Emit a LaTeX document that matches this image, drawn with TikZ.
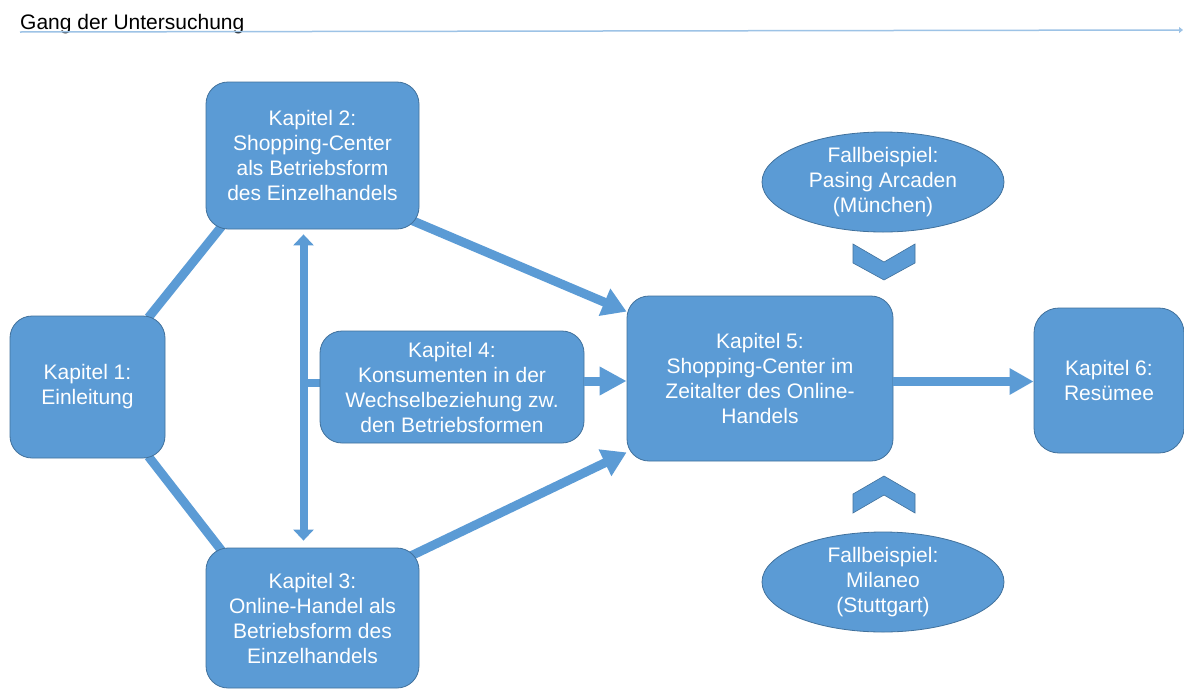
\documentclass[tikz,border=0pt]{standalone}
\usepackage{fontspec}
\setmainfont{Liberation Sans}
\usetikzlibrary{arrows.meta,shapes.geometric,calc,backgrounds}
\definecolor{boxblue}{HTML}{5B9BD5}
\definecolor{edgeblue}{HTML}{41719C}
\definecolor{titleline}{HTML}{9DC3E6}
\begin{document}
\begin{tikzpicture}[x=1pt,y=-1pt,
  txt/.style={font=\fontsize{21}{25}\selectfont},
  box/.style={txt, draw=edgeblue, line width=0.8pt, fill=boxblue, rounded corners=22pt, text=white, align=center, inner sep=0pt},
  oval/.style={txt, ellipse, draw=edgeblue, line width=0.8pt, fill=boxblue, text=white, align=center, inner sep=0pt, minimum width=242pt, minimum height=100pt},
  link/.style={draw=boxblue, line width=9pt},
  flow/.style={link, -{Triangle[length=24pt,width=28pt]}},
  dbl/.style={draw=boxblue, line width=8pt, {Triangle[length=11pt,width=20pt]}-{Triangle[length=11pt,width=20pt]}},
  chev/.style={fill=boxblue, draw=edgeblue, line width=0.6pt}
]
\useasboundingbox (0,0) rectangle (1184,691);

\node[anchor=base west, txt, inner sep=0pt] (title) at (20,29) {Gang der Untersuchung};
\coordinate (lineend) at (1183,30);
\draw[titleline, line width=1.5pt, -{Triangle[length=4pt,width=6pt]}] ($(title.base west)+(0,3)$) -- (lineend);

\node[box, minimum width=155pt, minimum height=142pt] (k1) at (87.5,387) {Kapitel 1:\\Einleitung};
\node[box, minimum width=213pt, minimum height=147pt] (k2) at (312.5,155.5) {Kapitel 2:\\Shopping-Center\\als Betriebsform\\des Einzelhandels};
\node[box, minimum width=213pt, minimum height=140pt] (k3) at (312.5,618) {Kapitel 3:\\Online-Handel als\\Betriebsform des\\Einzelhandels};
\node[box, minimum width=264pt, minimum height=112pt] (k4) at (452,387) {Kapitel 4:\\Konsumenten in der\\Wechselbeziehung zw.\\den Betriebsformen};
\node[box, minimum width=266pt, minimum height=165pt] (k5) at (760,378.5) {Kapitel 5:\\Shopping-Center im\\Zeitalter des Online-\\Handels};
\node[box, minimum width=150pt, minimum height=145pt, rounded corners=25pt] (k6) at (1109,380.5) {Kapitel 6:\\Resümee};
\node[oval] (e1) at (883,182) {Fallbeispiel:\\Pasing Arcaden\\(München)};
\node[oval] (e2) at (883,582) {Fallbeispiel:\\Milaneo\\(Stuttgart)};

\begin{scope}[on background layer]
\fill[white] (0,0) rectangle (1184,691);
\draw[link] ($(k1.north east)+(-17,2)$) -- ($(k2.south west)+(16,-3)$);
\draw[link] ($(k1.south east)+(-17,-2)$) -- ($(k3.north west)+(16,3)$);
\draw[flow] ($(k2.south east)+(-10,-10)$) -- ($(k5.north west)+(0,16)$);
\draw[flow] ($(k3.north east)+(-10,9)$) -- ($(k5.south west)+(0,-9)$);
\draw[link, line width=8pt] ($(k4.west)+(1,-4)$) -- ($(k4.west)+(-16.5,-4)$) coordinate (stub);
\end{scope}

\draw[flow, -{Triangle[length=27pt,width=27pt]}] ($(k4.east)+(0,-6)$) -- ($(k5.west)+(0,2.5)$);
\draw[flow, -{Triangle[length=24pt,width=25pt]}] ($(k5.east)+(0,3)$) -- ($(k6.west)+(0,1)$);

\coordinate (dtop) at ($(k2.south)+(-9,5)$);
\coordinate (dbot) at ($(k3.north)+(-9,-7)$);
\draw[dbl] (dtop) -- (dbot);

\filldraw[chev] (853,244) -- (884,262) -- (915,244) -- (915,263) -- (884,280) -- (853,263) -- cycle;
\filldraw[chev] (884,476) -- (915,494) -- (915,513) -- (884,495) -- (853,513) -- (853,494) -- cycle;
\end{tikzpicture}
\end{document}
